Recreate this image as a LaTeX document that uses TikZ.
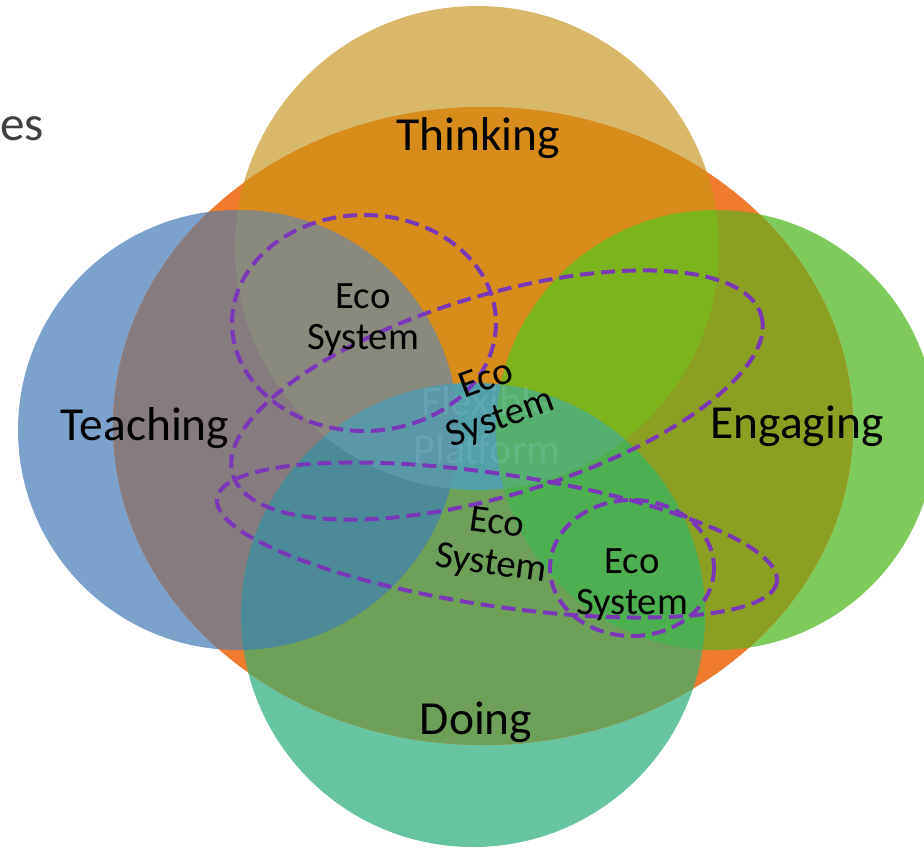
\documentclass[tikz,border=0pt]{standalone}
\usepackage{fontspec}
\setmainfont{Carlito}
\usepackage{tikz}

\definecolor{thinkingtan}{HTML}{D7B969}
\definecolor{teachingblue}{HTML}{7CA2CC}
\definecolor{engaginggreen}{HTML}{7ECB5C}
\definecolor{doingteal}{HTML}{66C4A0}
\definecolor{platformorange}{HTML}{EF7B2F}
\definecolor{thinkingorange}{HTML}{D88C1C}
\definecolor{teachingorange}{HTML}{867B7E}
\definecolor{engagingorange}{HTML}{8BA022}
\definecolor{doingorange}{HTML}{6EA05A}
\definecolor{teachthink}{HTML}{8A897D}
\definecolor{engagethink}{HTML}{7DB41E}
\definecolor{doteach}{HTML}{4D8A98}
\definecolor{doengage}{HTML}{4DB050}
\definecolor{dothink}{HTML}{52A0A8}
\definecolor{doteachthink}{HTML}{5A98A8}
\definecolor{doengagethink}{HTML}{55B070}
\definecolor{ecopurple}{HTML}{7A38B8}

\newcommand{\thinkingdisc}{(477,248) circle [radius=242]}
\newcommand{\teachingdisc}{(238,430) circle [radius=220]}
\newcommand{\engagingdisc}{(716,430) circle [radius=220]}
\newcommand{\doingdisc}{(473,615) circle [radius=232]}
\newcommand{\platformoval}{(483,426) ellipse [x radius=370, y radius=319]}

\begin{document}
\begin{tikzpicture}[x=0.2mm, y=-0.2mm,
    venntitle/.style ={font=\fontsize{27}{32}\selectfont, text=black, inner sep=0pt},
    ecolabel/.style ={font=\fontsize{22}{23.3}\selectfont, align=center, text=black, inner sep=0pt},
    ecoloop/.style ={draw=ecopurple, dash pattern=on 2.8mm off 1.4mm, line width=0.8mm}]
   \useasboundingbox (0,0) rectangle (924,851);
   \fill[thinkingtan] \thinkingdisc;
   \fill[teachingblue] \teachingdisc;
   \fill[engaginggreen] \engagingdisc;
   \fill[doingteal] \doingdisc;
   \fill[platformorange] \platformoval;
   \begin{scope}
      \clip \platformoval;
      \fill[thinkingorange] \thinkingdisc;
      \fill[teachingorange] \teachingdisc;
      \fill[engagingorange] \engagingdisc;
      \fill[doingorange] \doingdisc;
      \begin{scope}
         \clip \thinkingdisc;
         \fill[teachthink] \teachingdisc;
         \fill[engagethink] \engagingdisc;
      \end{scope}
      \begin{scope}
         \clip \doingdisc;
         \fill[doteach] \teachingdisc;
         \fill[doengage] \engagingdisc;
         \clip \thinkingdisc;
         \fill[dothink] \doingdisc;
         \fill[doteachthink] \teachingdisc;
         \fill[doengagethink] \engagingdisc;
      \end{scope}
   \end{scope}
   \node[font=\fontsize{24}{27}\selectfont, align=center, text=cyan!30, text opacity=0.14] (platform) at (487,425) {Flexible\\Platform};
   \node[venntitle, anchor=base] (thinking) at (478,150) {Thinking};
   \node[venntitle, anchor=base] (teaching) at (145,440) {Teaching};
   \node[venntitle, anchor=base] (engaging) at (797,438) {Engaging};
   \node[venntitle, anchor=base] (doing) at (476,734) {Doing};
   \node[anchor=base west, font=\fontsize{28}{32}\selectfont, text=black!75, inner sep=0pt] (heading) at (0,140) {es};
   \draw[ecoloop] (364,323) ellipse [x radius=132, y radius=108];
   \draw[ecoloop, rotate around={16.8:(497,395)}] (497,395) ellipse [x radius=276, y radius=100];
   \draw[ecoloop, rotate around={-8.5:(497,540)}] (497,540) ellipse [x radius=283, y radius=66];
   \draw[ecoloop] (632,568) ellipse [x radius=82, y radius=68];
   \node[ecolabel] (ecoA) at (363,320) {Eco\\System};
   \node[ecolabel, rotate=20] (ecoB) at (494,400) {Eco\\System};
   \node[ecolabel, rotate=-8] (ecoC) at (494,545) {Eco\\System};
   \node[ecolabel] (ecoD) at (632,585) {Eco\\System};
 \end{tikzpicture}
\end{document}
